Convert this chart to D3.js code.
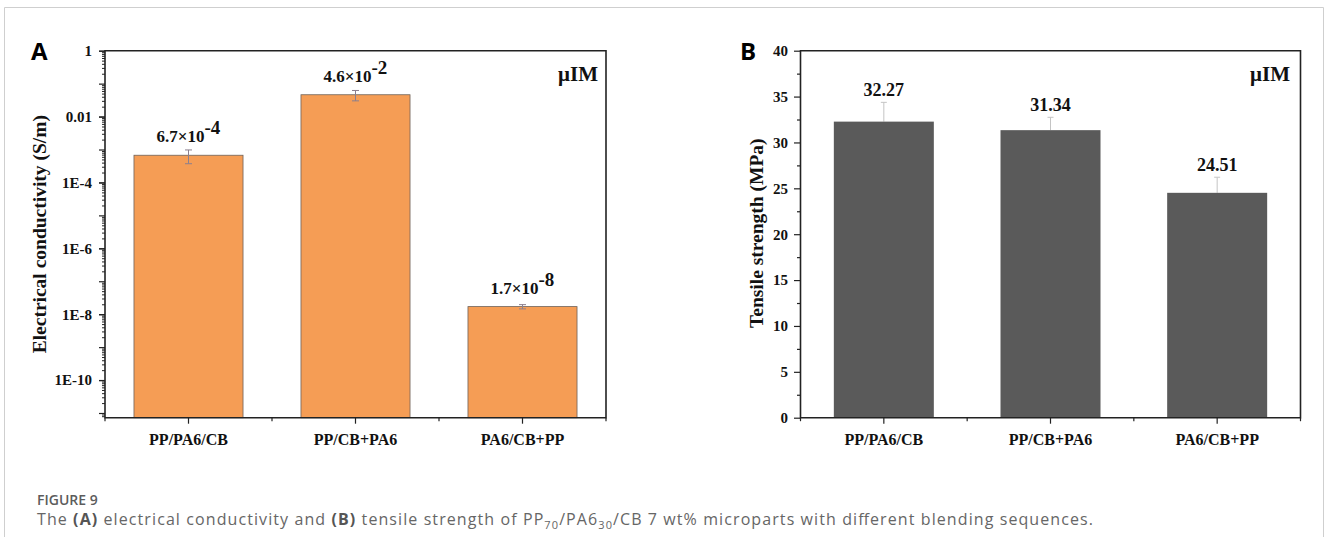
<!DOCTYPE html>
<html>
<head>
<meta charset="utf-8">
<script src="https://cdn.jsdelivr.net/npm/d3@7/dist/d3.min.js"></script>
<style>
  html, body { margin: 0; padding: 0; background: #fff; }
  svg { display: block; }
</style>
</head>
<body>
<svg id="chart" width="1328" height="537"></svg>
<script>
// ---------- data ----------
const categories = ["PP/PA6/CB", "PP/CB+PA6", "PA6/CB+PP"];
const conductivity = [6.7e-4, 4.6e-2, 1.7e-8];
const conductivityErr = [3.0e-4, 1.6e-2, 2.5e-9];
const conductivityDomain = [7.2e-12, 1];
const conductivityTickValues = [1, 1e-2, 1e-4, 1e-6, 1e-8, 1e-10];
const conductivityTickLabels = ["1", "0.01", "1E-4", "1E-6", "1E-8", "1E-10"];
const strength = [32.27, 31.34, 24.51];
const strengthErr = [2.1, 1.4, 1.7];
const strengthDomain = [0, 40];
const strengthTickValues = [0, 5, 10, 15, 20, 25, 30, 35, 40];
const strengthMinorTicks = [2.5, 7.5, 12.5, 17.5, 22.5, 27.5, 32.5, 37.5];

const serif = "'Liberation Serif', 'Times New Roman', Times, serif";
const sans = "'Open Sans', 'Noto Sans', 'Liberation Sans', Arial, sans-serif";

const svg = d3.select("#chart");

// figure frame
svg.append("path")
  .attr("d", "M4.5,545 V7.5 H1323.5 V545")
  .attr("fill", "none").attr("stroke", "#cfcfcf").attr("stroke-width", 1);

function styleAxis(g, fontSize) {
  g.select(".domain").remove();
  g.selectAll("line").attr("stroke", "#222").attr("stroke-width", 1.2);
  g.selectAll("text").attr("font-family", serif).attr("font-weight", "bold")
    .attr("font-size", fontSize).attr("fill", "#111");
}

function frame(g, x0, x1, y0, y1) {
  g.append("path")
    .attr("d", `M${x0},${y0} H${x1} V${y1} H${x0} Z`)
    .attr("fill", "none").attr("stroke", "#222").attr("stroke-width", 1.6);
}

function xAxisBand(g, x, y1, x0, x1) {
  const ax = g.append("g").attr("transform", `translate(0,${y1})`)
    .call(d3.axisBottom(x).tickSize(6).tickSizeOuter(0).tickPadding(10));
  styleAxis(ax, 16);
  const step = x.step();
  const bounds = d3.range(categories.length + 1).map(i => x0 + i * step);
  g.selectAll(null).data(bounds).join("line")
    .attr("x1", d => d).attr("x2", d => d)
    .attr("y1", y1).attr("y2", y1 + 3.5)
    .attr("stroke", "#222").attr("stroke-width", 1.2);
}

// ---------- Panel A ----------
{
  const x0 = 105, x1 = 606, y0 = 50.7, y1 = 417.7;
  const g = svg.append("g");
  const x = d3.scaleBand().domain(categories).range([x0, x1])
    .paddingInner(0.347).paddingOuter(0.1735);
  const y = d3.scaleLog().domain(conductivityDomain).range([y1, y0]);

  const isDecade = d => Math.abs(Math.log10(d) - Math.round(Math.log10(d))) < 1e-6;
  const minor = y.ticks(100).filter(d => !isDecade(d));
  const decades = y.ticks(100).filter(isDecade);
  const amin = g.append("g").attr("transform", `translate(${x0},0)`)
    .call(d3.axisLeft(y).tickValues(minor).tickSize(3).tickFormat(""));
  styleAxis(amin, 15);
  amin.selectAll("line").attr("stroke-width", 1);
  const adec = g.append("g").attr("transform", `translate(${x0},0)`)
    .call(d3.axisLeft(y).tickValues(decades).tickSize(6).tickFormat(""));
  styleAxis(adec, 15);
  const ay = g.append("g").attr("transform", `translate(${x0},0)`)
    .call(d3.axisLeft(y).tickValues(conductivityTickValues).tickSize(6).tickPadding(7)
      .tickFormat((d, i) => conductivityTickLabels[i]));
  styleAxis(ay, 15);

  g.selectAll(null).data(conductivity).join("rect")
    .attr("x", (d, i) => x(categories[i]))
    .attr("width", x.bandwidth())
    .attr("y", d => y(d))
    .attr("height", d => y1 - y(d))
    .attr("fill", "#F59D55").attr("stroke", "#6e6259").attr("stroke-width", 0.8);

  const eg = g.append("g").attr("stroke", "#8c7f8e").attr("stroke-width", 1).attr("fill", "none");
  conductivity.forEach((v, i) => {
    const cx = x(categories[i]) + x.bandwidth() / 2;
    const ya = y(v + conductivityErr[i]), yb = y(v - conductivityErr[i]);
    eg.append("line").attr("x1", cx).attr("x2", cx).attr("y1", ya).attr("y2", yb);
    eg.append("line").attr("x1", cx - 3.5).attr("x2", cx + 3.5).attr("y1", ya).attr("y2", ya);
    eg.append("line").attr("x1", cx - 3.5).attr("x2", cx + 3.5).attr("y1", yb).attr("y2", yb);
  });

  conductivity.forEach((v, i) => {
    const cx = x(categories[i]) + x.bandwidth() / 2;
    const e = Math.floor(Math.log10(v));
    const m = (v / Math.pow(10, e)).toFixed(1);
    const t = g.append("text").attr("x", cx).attr("y", y(v) - 13)
      .attr("text-anchor", "middle").attr("font-family", serif)
      .attr("font-weight", "bold").attr("font-size", 17).attr("fill", "#111");
    t.append("tspan").text(m + "\u00d710");
    t.append("tspan").attr("dy", -8).attr("font-size", 19).text(String(e));
  });

  frame(g, x0, x1, y0, y1);
  xAxisBand(g, x, y1, x0, x1);

  g.append("text").attr("x", 598).attr("y", 81).attr("text-anchor", "end")
    .attr("font-family", serif).attr("font-weight", "bold").attr("font-size", 21)
    .attr("fill", "#111").text("\u03bcIM");

  g.append("text").attr("transform", `translate(46,${(y0 + y1) / 2}) rotate(-90)`)
    .attr("text-anchor", "middle").attr("font-family", serif).attr("font-weight", "bold")
    .attr("font-size", 19.5).attr("fill", "#111").text("Electrical conductivity (S/m)");

  g.append("text").attr("x", 31).attr("y", 60).attr("font-family", sans)
    .attr("font-weight", "bold").attr("font-size", 24).attr("fill", "#000").text("A");
}

// ---------- Panel B ----------
{
  const x0 = 800.5, x1 = 1300.5, y0 = 50.7, y1 = 417.7;
  const g = svg.append("g");
  const x = d3.scaleBand().domain(categories).range([x0, x1])
    .paddingInner(0.4).paddingOuter(0.2);
  const y = d3.scaleLinear().domain(strengthDomain).range([y1, y0]);

  const amin = g.append("g").attr("transform", `translate(${x0},0)`)
    .call(d3.axisLeft(y).tickValues(strengthMinorTicks).tickSize(3.5).tickFormat(""));
  styleAxis(amin, 15);
  const ay = g.append("g").attr("transform", `translate(${x0},0)`)
    .call(d3.axisLeft(y).tickValues(strengthTickValues).tickSize(6.5).tickPadding(6));
  styleAxis(ay, 15);

  const eg = g.append("g").attr("stroke", "#c4c4c4").attr("stroke-width", 1).attr("fill", "none");
  strength.forEach((v, i) => {
    const cx = x(categories[i]) + x.bandwidth() / 2;
    const ya = y(v + strengthErr[i]), yb = y(v);
    eg.append("line").attr("x1", cx).attr("x2", cx).attr("y1", ya).attr("y2", yb);
    eg.append("line").attr("x1", cx - 3).attr("x2", cx + 3).attr("y1", ya).attr("y2", ya);
  });

  g.selectAll(null).data(strength).join("rect")
    .attr("x", (d, i) => x(categories[i]))
    .attr("width", x.bandwidth())
    .attr("y", d => y(d))
    .attr("height", d => y1 - y(d))
    .attr("fill", "#5a5a5a");

  strength.forEach((v, i) => {
    const cx = x(categories[i]) + x.bandwidth() / 2;
    g.append("text").attr("x", cx).attr("y", y(v + strengthErr[i]) - 6)
      .attr("text-anchor", "middle").attr("font-family", serif)
      .attr("font-weight", "bold").attr("font-size", 18).attr("fill", "#111")
      .text(v.toFixed(2));
  });

  frame(g, x0, x1, y0, y1);
  xAxisBand(g, x, y1, x0, x1);

  g.append("text").attr("x", 1290).attr("y", 81).attr("text-anchor", "end")
    .attr("font-family", serif).attr("font-weight", "bold").attr("font-size", 21)
    .attr("fill", "#111").text("\u03bcIM");

  g.append("text").attr("transform", `translate(763,${(y0 + y1) / 2 - 1}) rotate(-90)`)
    .attr("text-anchor", "middle").attr("font-family", serif).attr("font-weight", "bold")
    .attr("font-size", 19.5).attr("fill", "#111").text("Tensile strength (MPa)");

  g.append("text").attr("x", 740).attr("y", 60).attr("font-family", sans)
    .attr("font-weight", "bold").attr("font-size", 24).attr("fill", "#000").text("B");
}

// ---------- caption ----------
svg.append("text").attr("x", 37).attr("y", 504.5).attr("font-family", sans)
  .attr("font-weight", 600).attr("font-size", 14).attr("fill", "#5c5c5c").text("FIGURE 9");
{
  const t = svg.append("text").attr("x", 37).attr("y", 525).attr("font-family", sans)
    .attr("font-size", 16).attr("fill", "#666")
    .attr("textLength", 1056).attr("lengthAdjust", "spacing");
  t.append("tspan").text("The ");
  t.append("tspan").attr("font-weight", "bold").attr("fill", "#555").text("(A)");
  t.append("tspan").text(" electrical conductivity and ");
  t.append("tspan").attr("font-weight", "bold").attr("fill", "#555").text("(B)");
  t.append("tspan").text(" tensile strength of PP");
  t.append("tspan").attr("font-size", 11).attr("dy", 4).text("70");
  t.append("tspan").attr("dy", -4).text("/PA6");
  t.append("tspan").attr("font-size", 11).attr("dy", 4).text("30");
  t.append("tspan").attr("dy", -4).text("/CB 7 wt% microparts with different blending sequences.");
}
</script>
</body>
</html>
